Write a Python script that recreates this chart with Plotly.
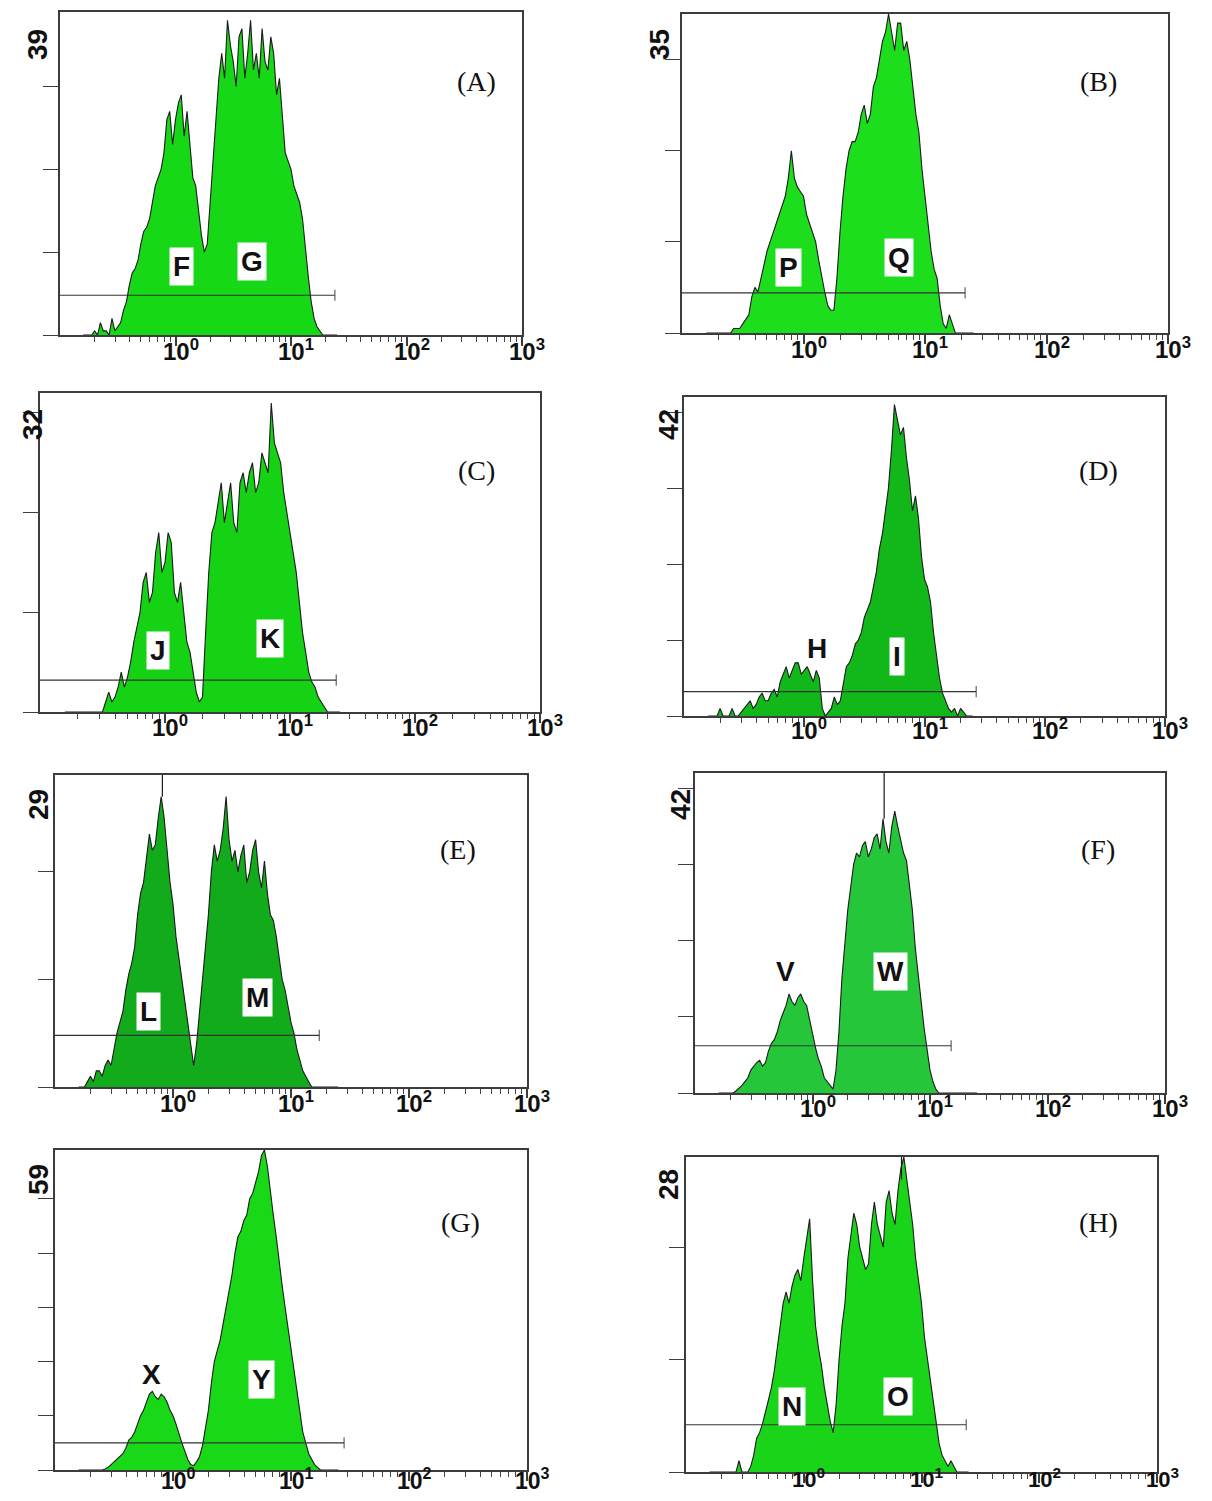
import plotly.graph_objects as go

# ---------------- DATA ----------------
# histogram channels (log10 of fluorescence intensity)
LOG_CH = [-0.80, -0.75, -0.70, -0.65, -0.60, -0.55, -0.50, -0.45, -0.40, -0.35,
          -0.30, -0.25, -0.20, -0.15, -0.10, -0.05, 0.00, 0.05, 0.10, 0.15,
          0.20, 0.25, 0.30, 0.35, 0.40, 0.45, 0.50, 0.55, 0.60, 0.65,
          0.70, 0.75, 0.80, 0.85, 0.90, 0.95, 1.00, 1.05, 1.10, 1.15,
          1.20, 1.25, 1.30, 1.35, 1.40]
# in-between channels
LOG_HALF = [-0.775, -0.725, -0.675, -0.625, -0.575, -0.525, -0.475, -0.425, -0.375, -0.325,
            -0.275, -0.225, -0.175, -0.125, -0.075, -0.025, 0.025, 0.075, 0.125, 0.175,
            0.225, 0.275, 0.325, 0.375, 0.425, 0.475, 0.525, 0.575, 0.625, 0.675,
            0.725, 0.775, 0.825, 0.875, 0.925, 0.975, 1.025, 1.075, 1.125, 1.175,
            1.225, 1.275, 1.325, 1.375]

counts_A = [0, 0, 0.5, 1.5, 0.5, 2, 1, 3, 6, 8,
            11, 13, 16, 19, 22, 27, 26, 29, 27, 19,
            15, 10, 16, 27, 34, 38, 33, 36, 31, 38,
            34, 37, 32, 34, 31, 22, 20, 17, 14, 7,
            2, 0.5, 0, 0, 0]
half_A = [0, 0, 0, 0.5, 0, 0.5, 1.5, 4, 7.5, 9,
          12.5, 14, 18, 20, 26, 23, 28, 24, 23, 18,
          12, 11, 21, 31, 31, 35, 30, 37, 34, 32,
          31, 33, 36, 29, 27, 21, 18, 16, 10, 4,
          1, 0, 0, 0]
counts_B = [0, 0, 0, 0, 0, 0.5, 1, 2, 5, 6,
            9, 11, 13, 15, 20, 16, 15, 12, 10, 6,
            3, 2.5, 11, 18, 21, 22, 25, 24, 28, 32,
            35, 31, 34, 32, 27, 22, 15, 9, 6, 1,
            2, 0, 0, 0, 0]
half_B = [0, 0, 0, 0, 0.5, 0.5, 1.5, 4, 4.5, 7.5,
          10, 12, 14, 17, 17, 15.5, 13, 11, 8, 4.5,
          2.5, 6, 15, 20, 21, 24, 23, 27, 30, 33,
          33, 34, 31, 30, 24, 18, 12, 7, 3, 0.5,
          1, 0, 0, 0]
counts_C = [0, 0, 0, 0, 0, 0, 0, 2, 1.5, 4,
            3.5, 7, 10, 14, 12, 18, 15, 17, 11, 10,
            6, 2, 1.5, 14, 19, 23, 21, 19, 23, 22,
            25, 23, 25, 31, 26, 22, 18, 14, 8, 4,
            2.5, 1, 0, 0, 0]
half_C = [0, 0, 0, 0, 0, 0, 1, 1, 2.5, 2.5,
          5, 8.5, 13, 11, 16, 14, 18, 12, 13, 7,
          4, 1, 8, 18, 21, 19, 23, 18, 24, 24,
          22, 26, 24, 27, 25, 20, 16, 11, 6, 3,
          1.5, 0.5, 0, 0]
counts_D = [0, 0, 1, 0, 1, 0, 1, 2, 1.5, 3,
            2, 3.5, 4.5, 6.5, 6, 7, 6, 5.5, 6, 1,
            0.5, 2.5, 2, 6.5, 8, 10, 13, 15, 19, 24,
            30, 41, 37, 34, 27, 26, 18, 15, 8, 3,
            1, 1, 1, 0, 0]
half_D = [0, 0, 0, 0, 0, 0.5, 1.5, 1, 2.5, 2,
          3, 2.5, 5.5, 5, 7, 5.5, 6.5, 4.5, 5, 0,
          1, 1.5, 4.5, 7, 9.5, 11, 14, 17, 22, 27,
          35, 39, 38, 31, 29, 21, 17, 11, 5, 2,
          0.5, 0, 0.5, 0]
counts_E = [0, 0, 1, 1.5, 1, 2.5, 3.5, 6, 9, 11.5,
            16, 19, 23.5, 22.5, 27, 22, 17, 12, 8, 3.5,
            4, 10, 16, 22.5, 22, 27, 21, 20, 22.5, 20,
            23, 18.5, 18, 15.5, 12, 9, 6, 3.5, 1.5, 0.5,
            0, 0, 0, 0, 0]
half_E = [0, 0.5, 0.5, 1.5, 2, 2, 5, 7, 10.5, 13,
          18, 21, 22, 25, 25, 19, 14, 10, 5.5, 2,
          7, 13, 20, 21, 24, 23, 22, 21.5, 19, 22,
          20, 21, 16, 14, 10, 7.5, 5, 2.5, 1, 0,
          0, 0, 0, 0]
counts_F = [0, 0, 0, 0.3, 1, 2, 3.5, 4.3, 4, 6.5,
            8, 10.5, 13, 11.5, 13, 11.5, 7.5, 4.5, 2, 1,
            3, 15, 24, 30, 31, 33, 32, 34, 36, 31.5,
            37, 33, 30.5, 24, 15, 8.5, 3, 0.5, 0, 0,
            0, 0, 0, 0, 0]
half_F = [0, 0, 0, 0.6, 1.5, 3, 4, 3.5, 5.5, 7,
          9.5, 11.5, 12, 12.5, 12, 9.5, 6, 3.5, 1.5, 0.5,
          8, 20, 27, 31.5, 32.5, 31, 33.5, 32, 33, 35,
          35, 31.5, 27, 19, 12, 5.5, 1.5, 0, 0, 0,
          0, 0, 0, 0]
counts_G = [0, 0, 0, 0, 0, 0.5, 1.5, 2.5, 4, 6,
            8.5, 11, 14, 13.5, 14, 12.5, 10, 6.5, 3.5, 1,
            1.5, 4.5, 11, 20, 24, 30, 36, 43, 46, 50,
            53, 58, 56, 47, 38, 30, 23, 15, 7, 3,
            1, 0, 0, 0, 0]
half_G = [0, 0, 0, 0, 0.2, 1, 2, 3, 5.5, 7,
          10, 12.5, 14.5, 13, 13.5, 11, 8.5, 5, 2, 0.8,
          2.5, 7.5, 16, 22, 27, 33, 40, 44, 47, 51,
          55, 59, 51, 43, 34, 26, 19, 11, 5, 2,
          0.5, 0, 0, 0]
counts_H = [0, 0, 0, 0, 0, 1, 0, 0.5, 3, 4.3,
            6.4, 9, 13, 16, 16.5, 18, 19, 22.5, 13, 9.5,
            6, 3.5, 10, 15, 21, 22, 19, 18.5, 24, 21,
            24, 23, 25, 28, 24, 19, 15, 10, 6, 2.5,
            1, 1, 0, 0, 0]
half_H = [0, 0, 0, 0, 0, 0, 0, 1.5, 3.5, 5.5,
          7.5, 11, 15, 15, 17.5, 17, 21, 17, 11, 7.5,
          4.5, 6, 13, 19, 23, 20, 18, 22, 22, 20,
          25, 22, 27, 26, 22, 17, 12, 8, 4, 1.5,
          0.5, 0.5, 0, 0]

panel_names = ["A", "B", "C", "D", "E", "F", "G", "H"]
panel_counts = [counts_A, counts_B, counts_C, counts_D, counts_E, counts_F, counts_G, counts_H]
panel_half = [half_A, half_B, half_C, half_D, half_E, half_F, half_G, half_H]
y_max = [39, 35, 32, 42, 29, 42, 59, 28]          # top of count axis (label)
gate_level = [4.8, 4.4, 3.2, 3.2, 4.8, 6.2, 5.0, 4.2]   # marker bar height (counts)
gate_end = [1.38, 1.33, 1.37, 1.43, 1.24, 1.18, 1.45, 1.38]  # marker bar right end (log10)
# thin spikes off the top: (panel index, log10 x, low count, high count)
spikes = [(4, -0.09, 27, 35), (5, 0.61, 36, 50), (7, 0.83, 26, 35)]
region_letters = [["F", "G"], ["P", "Q"], ["J", "K"], ["H", "I"],
                  ["L", "M"], ["V", "W"], ["X", "Y"], ["N", "O"]]
x_tick_vals = [1, 10, 100, 1000]
x_tick_exp = [0, 1, 2, 3]

# ---------------- LAYOUT / STYLE ----------------
OFF = 8                      # default page margin of the html body
FW, FH = 1212 - 2 * OFF, 1501 - 2 * OFF


def px(X):
    return (X - OFF) / FW


def py(Y):
    return 1 - (Y - OFF) / FH


# plot boxes in reference pixels (x0, y0, x1, y1)
boxes = [(60, 12, 522, 335), (682, 14, 1168, 333),
         (40, 393, 540, 712), (684, 397, 1165, 716),
         (55, 775, 527, 1087), (695, 773, 1165, 1093),
         (55, 1150, 527, 1470), (686, 1157, 1157, 1472)]
tick_label_gap = [15, 15, 14, 13, 15, 14, 9, 6]
tick_label_size = [24, 24, 24, 24, 24, 24, 23, 22]
fills = ["#16d816", "#1cde1c", "#15d215", "#12b81a", "#12ab1c", "#26c63a", "#18d818", "#19d419"]
title_pos = [(476, 82), (1098, 82), (476, 470), (1098, 470),
             (458, 850), (1098, 850), (460, 1222), (1098, 1222)]
max_label_pos = [(38, 45), (660, 45), (32, 425), (668, 425),
                 (38, 805), (680, 805), (38, 1180), (668, 1185)]
# region letter positions in (log10 x, count) and whether a white box is drawn
letter_pos = [[(0.056, 8.3, True), (0.66, 8.9, True)],
              [(-0.12, 7.2, True), (0.79, 8.3, True)],
              [(-0.056, 6.2, True), (0.84, 7.4, True)],
              [(0.11, 8.9, False), (0.77, 7.9, True)],
              [(-0.21, 7.0, True), (0.72, 8.3, True)],
              [(-0.23, 16.0, False), (0.66, 16.0, True)],
              [(-0.18, 17.7, False), (0.75, 16.6, True)],
              [(-0.10, 5.8, True), (0.80, 6.7, True)]]

minor_vals = [k * 10.0 ** d for d in (-1, 0, 1, 2) for k in range(2, 10)]
axis_col = "#3c3c3c"
bold_sans = dict(family="Liberation Sans", color="#111111", weight="bold")

fig = go.Figure()
annotations = []
layout_axes = {}

for i in range(8):
    n = i + 1
    xa = "x" if n == 1 else f"x{n}"
    ya = "y" if n == 1 else f"y{n}"
    xkey = "xaxis" if n == 1 else f"xaxis{n}"
    ykey = "yaxis" if n == 1 else f"yaxis{n}"
    x0, y0, x1, y1 = boxes[i]

    pts = sorted(list(zip(LOG_CH, panel_counts[i])) + list(zip(LOG_HALF, panel_half[i])))
    xs = [10 ** p[0] for p in pts]
    ys = [p[1] for p in pts]
    fig.add_trace(go.Scatter(x=xs, y=ys, mode="lines", fill="tozeroy",
                             fillcolor=fills[i], line=dict(color="#1b1b1b", width=1.1),
                             xaxis=xa, yaxis=ya, showlegend=False, hoverinfo="skip"))
    # marker bar
    fig.add_trace(go.Scatter(x=[0.1, 10 ** gate_end[i]], y=[gate_level[i], gate_level[i]],
                             mode="lines+markers",
                             line=dict(color="#333333", width=1.2),
                             marker=dict(symbol="line-ns-open", size=[0, 8],
                                         line=dict(color="#333333", width=1.3)),
                             xaxis=xa, yaxis=ya, showlegend=False, hoverinfo="skip"))

    yticks = list(range(0, y_max[i], 10))
    layout_axes[xkey] = dict(
        type="log", range=[-1, 3], domain=[px(x0), px(x1)], anchor=ya,
        showline=True, mirror=True, linecolor=axis_col, linewidth=1.5,
        ticks="outside", ticklen=9, tickwidth=1.6, tickcolor=axis_col,
        tickmode="array", tickvals=x_tick_vals, showticklabels=False,
        minor=dict(tickmode="array", tickvals=minor_vals, ticks="outside", ticklen=5,
                   tickwidth=1.2, tickcolor="#444444", showgrid=False),
        showgrid=False, zeroline=False, fixedrange=True)
    layout_axes[ykey] = dict(
        range=[0, y_max[i]], domain=[py(y1), py(y0)], anchor=xa,
        showline=True, mirror=True, linecolor=axis_col, linewidth=1.5,
        ticks="outside", ticklen=15, tickwidth=1.3, tickcolor=axis_col,
        tickmode="array", tickvals=yticks, showticklabels=False,
        showgrid=False, zeroline=False, fixedrange=True)

    # x tick labels (10^k), just under the axis
    for e in x_tick_exp:
        annotations.append(dict(text=f"10<sup>{e}</sup>", x=e,
                                y=py(y1 + tick_label_gap[i]), xref=xa, yref="paper",
                                showarrow=False, xanchor="center", yanchor="middle",
                                xshift=5, font=dict(size=tick_label_size[i], **bold_sans)))

    tx, ty = title_pos[i]
    annotations.append(dict(text=f"({panel_names[i]})", x=px(tx), y=py(ty),
                            xref="paper", yref="paper", showarrow=False,
                            xanchor="center", yanchor="middle",
                            font=dict(family="Liberation Serif", size=28, color="#111111")))
    mx, my = max_label_pos[i]
    annotations.append(dict(text=str(y_max[i]), x=px(mx), y=py(my),
                            xref="paper", yref="paper", showarrow=False, textangle=-90,
                            xanchor="center", yanchor="middle",
                            font=dict(size=28, **bold_sans)))
    for letter, (lx, ly, boxed) in zip(region_letters[i], letter_pos[i]):
        annotations.append(dict(text=letter, x=lx, y=ly, xref=xa, yref=ya, showarrow=False,
                                xanchor="center", yanchor="middle",
                                bgcolor="white" if boxed else "rgba(0,0,0,0)",
                                borderpad=3,
                                font=dict(size=28, **bold_sans)))

for (pi, sx, lo, hi) in spikes:
    n = pi + 1
    xa = "x" if n == 1 else f"x{n}"
    ya = "y" if n == 1 else f"y{n}"
    fig.add_trace(go.Scatter(x=[10 ** sx, 10 ** sx], y=[lo, hi], mode="lines",
                             line=dict(color="#1b1b1b", width=1.2),
                             xaxis=xa, yaxis=ya, showlegend=False, hoverinfo="skip",
                             cliponaxis=True))

fig.update_layout(width=FW, height=FH, margin=dict(l=0, r=0, t=0, b=0),
                  paper_bgcolor="white", plot_bgcolor="white",
                  annotations=annotations, showlegend=False, **layout_axes)

fig.write_html("out.html")
